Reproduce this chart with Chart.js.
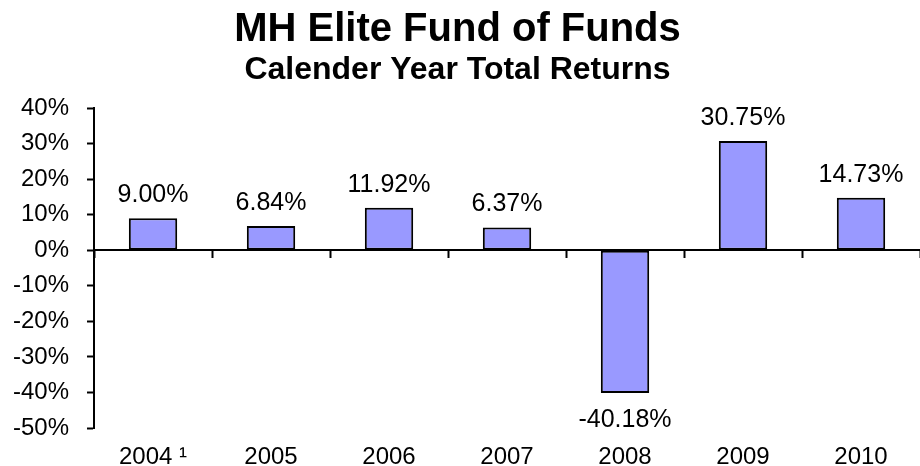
<!DOCTYPE html>
<html lang="en">
<head>
    <meta charset="UTF-8">
    <title>MH Elite Fund of Funds</title>
    <style>
        html, body {
            margin: 0;
            padding: 0;
            background-color: #fff;
        }
        .chart-container {
            position: relative;
            width: 920px;
            height: 466px;
        }
    </style>
    <script src="https://cdn.jsdelivr.net/npm/chart.js"></script>
</head>
<body>
    <div class="chart-container">
        <canvas id="fundChart"></canvas>
    </div>

    <script>
        // data
        const years = ['2004 \u00B9', '2005', '2006', '2007', '2008', '2009', '2010'];
        const returns = [9.00, 6.84, 11.92, 6.37, -40.18, 30.75, 14.73];
        const yTicks = [-50, -40, -30, -20, -10, 0, 10, 20, 30, 40];

        const FONT = "'Liberation Sans', Arial, Helvetica, sans-serif";

        // value labels above / below each bar
        const valueLabels = {
            id: 'valueLabels',
            afterDatasetsDraw(chart) {
                const ctx = chart.ctx;
                const meta = chart.getDatasetMeta(0);
                ctx.save();
                ctx.font = '25px ' + FONT;
                ctx.fillStyle = '#000';
                ctx.textAlign = 'center';
                ctx.textBaseline = 'middle';
                meta.data.forEach((bar, i) => {
                    const v = returns[i];
                    const y = v >= 0 ? bar.y - 23 : bar.y + 27;
                    ctx.fillText(v.toFixed(2) + '%', bar.x, y);
                });
                ctx.restore();
            }
        };

        const ctx = document.getElementById('fundChart').getContext('2d');
        new Chart(ctx, {
            type: 'bar',
            data: {
                labels: years,
                datasets: [{
                    data: returns,
                    backgroundColor: '#9999FF',
                    borderColor: '#000',
                    borderWidth: 2,
                    borderSkipped: false,
                    categoryPercentage: 1,
                    barPercentage: 0.41
                }]
            },
            options: {
                responsive: true,
                maintainAspectRatio: false,
                animation: false,
                layout: {
                    padding: { left: -5, right: 0, top: 0, bottom: 0 }
                },
                plugins: {
                    legend: { display: false },
                    tooltip: { enabled: false },
                    title: {
                        display: true,
                        text: 'MH Elite Fund of Funds',
                        color: '#000',
                        font: { family: FONT, size: 40, weight: 'bold', lineHeight: 1.2 },
                        padding: { top: 6, bottom: 0 }
                    },
                    subtitle: {
                        display: true,
                        text: 'Calender Year Total Returns',
                        color: '#000',
                        font: { family: FONT, size: 32, weight: 'bold', lineHeight: 1.0 },
                        padding: { top: 0, bottom: 22 }
                    }
                },
                scales: {
                    x: {
                        type: 'category',
                        position: { y: 0 },
                        offset: true,
                        grid: {
                            offset: true,
                            drawOnChartArea: false,
                            drawTicks: true,
                            tickLength: 7,
                            tickWidth: 2,
                            tickColor: '#000'
                        },
                        border: { display: true, color: '#000', width: 2 },
                        ticks: { display: false }
                    },
                    x2: {
                        type: 'category',
                        labels: years,
                        position: 'bottom',
                        offset: true,
                        grid: { display: false, drawTicks: false },
                        border: { display: false },
                        afterFit(scale) {
                            scale.height = 38;
                        },
                        ticks: {
                            color: '#000',
                            padding: 17,
                            maxRotation: 0,
                            font: { family: FONT, size: 24, lineHeight: 1.0 }
                        }
                    },
                    y: {
                        min: -50,
                        max: 40,
                        afterBuildTicks(scale) {
                            scale.ticks = yTicks.map(v => ({ value: v }));
                        },
                        grid: {
                            drawOnChartArea: false,
                            drawTicks: true,
                            tickLength: 7,
                            tickWidth: 2,
                            tickColor: '#000'
                        },
                        border: { display: true, color: '#000', width: 2 },
                        ticks: {
                            color: '#000',
                            padding: 18,
                            font: { family: FONT, size: 24 },
                            callback: v => v + '%'
                        }
                    }
                }
            },
            plugins: [valueLabels]
        });
    </script>
</body>
</html>
